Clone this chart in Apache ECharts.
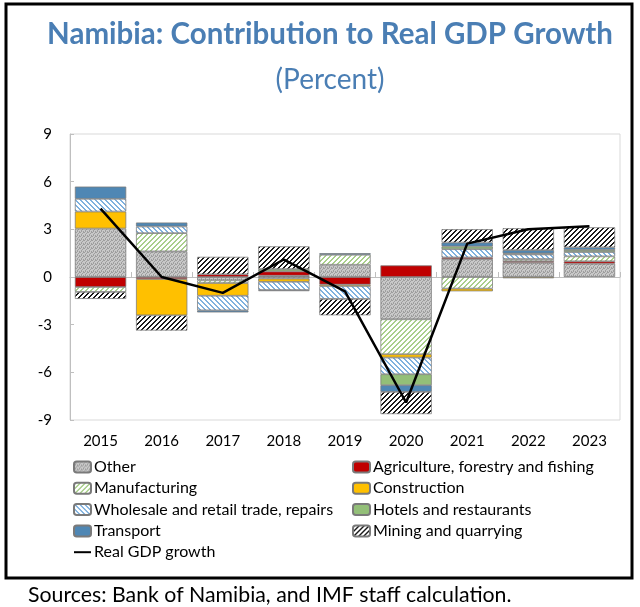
<!DOCTYPE html>
<html>
<head>
<meta charset="utf-8">
<script src="https://cdn.jsdelivr.net/npm/echarts@6/dist/echarts.min.js"></script>
<style>
html,body{margin:0;padding:0;background:#fff;}
#chart{width:640px;height:607px;}
</style>
</head>
<body>
<div id="chart"></div>
<script>
const years = ['2015','2016','2017','2018','2019','2020','2021','2022','2023'];
const yTicks = [-9, -6, -3, 0, 3, 6, 9];
const other     = [3.05, 1.61, -0.21, 0.08, 0.77, -2.66, 1.13, 0.90, 0.84];
const agri      = [-0.63, -0.13, 0.17, 0.27, -0.48, 0.73, 0.10, 0.10, 0.15];
const manuf     = [-0.31, 1.15, -0.17, -0.10, 0.63, -2.20, -0.73, 0.13, 0.31];
const constr    = [1.07, -2.28, -0.80, -0.20, -0.10, -0.21, -0.17, -0.08, 0.00];
const wholesale = [0.80, 0.42, -0.92, -0.52, -0.80, -1.05, 0.52, 0.29, 0.27];
const hotels    = [0.00, 0.00, 0.00, 0.15, 0.00, -0.69, 0.17, 0.06, 0.13];
const transport = [0.77, 0.25, -0.13, -0.07, 0.10, -0.42, 0.25, 0.21, 0.17];
const mining    = [-0.44, -0.96, 1.10, 1.43, -1.03, -1.40, 0.84, 1.38, 1.26];
const gdp       = [4.3, 0.0, -1.0, 1.1, -0.9, -7.9, 2.1, 3.0, 3.2];

const FONT = 'Lato';

function stripe(fg, bg, up, period, thick) {
  const c = document.createElement('canvas');
  c.width = period; c.height = period;
  const ctx = c.getContext('2d');
  ctx.fillStyle = bg; ctx.fillRect(0, 0, period, period);
  ctx.fillStyle = fg;
  for (let y = 0; y < period; y++) for (let x = 0; x < period; x++) {
    const k = up ? (x + y) % period : ((x - y) % period + period) % period;
    if (k < thick) ctx.fillRect(x, y, 1, 1);
  }
  return { image: c, repeat: 'repeat' };
}
function stipple() {
  const c = document.createElement('canvas');
  c.width = 4; c.height = 4;
  const ctx = c.getContext('2d');
  ctx.fillStyle = '#c8c8c8'; ctx.fillRect(0, 0, 4, 4);
  ctx.fillStyle = '#9e9e9e';
  [[0,0],[2,1],[1,2],[3,3],[3,0],[1,3]].forEach(p => ctx.fillRect(p[0], p[1], 1, 1));
  return { image: c, repeat: 'repeat' };
}

const barDefs = [
  { name: 'Other', data: other, color: stipple() },
  { name: 'Agriculture, forestry and fishing', data: agri, color: '#c00000' },
  { name: 'Manufacturing', data: manuf, color: stripe('#a9cf8c', '#ffffff', true, 5, 2) },
  { name: 'Construction', data: constr, color: '#ffc000' },
  { name: 'Wholesale and retail trade, repairs', data: wholesale, color: stripe('#7fb1de', '#ffffff', false, 5, 2) },
  { name: 'Hotels and restaurants', data: hotels, color: '#93bf78' },
  { name: 'Transport', data: transport, color: '#4f87b4' },
  { name: 'Mining and quarrying', data: mining, color: stripe('#1a1a1a', '#ffffff', true, 5, 2) }
];

const series = barDefs.map(d => ({
  name: d.name,
  type: 'bar',
  stack: 'total',
  xAxisIndex: 0,
  barCategoryGap: '16%',
  itemStyle: { color: d.color, borderColor: '#7a7a7a', borderWidth: 0.75 },
  emphasis: { disabled: true },
  data: d.data.map(v => (v === 0 ? null : v))
}));
series.push({
  name: 'Real GDP growth',
  type: 'line',
  xAxisIndex: 0,
  data: gdp,
  symbol: 'none',
  z: 10,
  lineStyle: { color: '#000', width: 2.5 },
  itemStyle: { color: '#000' }
});

const legendText = { fontFamily: FONT, fontSize: 16, color: '#000', lineHeight: 16, padding: [0,0,0,-2] };

const chart = echarts.init(document.getElementById('chart'), null, { renderer: 'canvas' });
chart.setOption({
  animation: false,
  backgroundColor: '#fff',
  grid: { left: 70, right: 20, top: 134, bottom: 187, show: true, borderColor: '#d9d9d9', borderWidth: 1 },
  xAxis: [
    { type: 'category', data: years,
      axisLine: { onZero: true, lineStyle: { color: '#bfbfbf', width: 1 } },
      axisTick: { show: true, inside: true, length: 5, lineStyle: { color: '#bfbfbf' } },
      axisLabel: { show: false } },
    { type: 'category', data: years, position: 'bottom',
      axisLine: { show: false, onZero: false }, axisTick: { show: false },
      axisLabel: { fontFamily: FONT, fontSize: 15, color: '#000', margin: 14 } }
  ],
  yAxis: {
    type: 'value', min: yTicks[0], max: yTicks[yTicks.length - 1], interval: 3,
    axisLine: { show: true, lineStyle: { color: '#bfbfbf' } },
    axisTick: { show: true, inside: true, length: 4, lineStyle: { color: '#bfbfbf' } },
    splitLine: { show: false },
    axisLabel: { fontFamily: FONT, fontSize: 15, color: '#000', margin: 18 }
  },
  legend: [
    { orient: 'vertical', left: 73, top: 459, padding: 0, itemGap: 5.3, itemWidth: 17, itemHeight: 11,
      selectedMode: false, textStyle: legendText,
      data: ['Other', 'Manufacturing', 'Wholesale and retail trade, repairs', 'Transport',
             { name: 'Real GDP growth', itemStyle: { opacity: 0 } }] },
    { orient: 'vertical', left: 352, top: 459, padding: 0, itemGap: 5.3, itemWidth: 17, itemHeight: 11,
      selectedMode: false, textStyle: legendText,
      data: ['Agriculture, forestry and fishing', 'Construction', 'Hotels and restaurants', 'Mining and quarrying'] }
  ],
  graphic: [
    { type: 'rect', shape: { x: 6, y: 4, width: 626, height: 574 }, style: { fill: 'none', stroke: '#000', lineWidth: 3 }, silent: true },
    { type: 'text', x: 330, y: 34, silent: true,
      style: { text: 'Namibia: Contribution to Real GDP Growth', fontFamily: FONT, fontWeight: 'bold', fontSize: 29.5,
               fill: '#4a7eb4', align: 'center', verticalAlign: 'middle' } },
    { type: 'text', x: 330, y: 80, silent: true,
      style: { text: '(Percent)', fontFamily: FONT, fontSize: 28, fill: '#4a7eb4', align: 'center', verticalAlign: 'middle' } },
    { type: 'text', left: 28, top: 585, silent: true,
      style: { text: 'Sources: Bank of Namibia, and IMF staff calculation.', fontFamily: FONT, fontSize: 21.3, fill: '#000' } }
  ],
  series: series
});
</script>
</body>
</html>
